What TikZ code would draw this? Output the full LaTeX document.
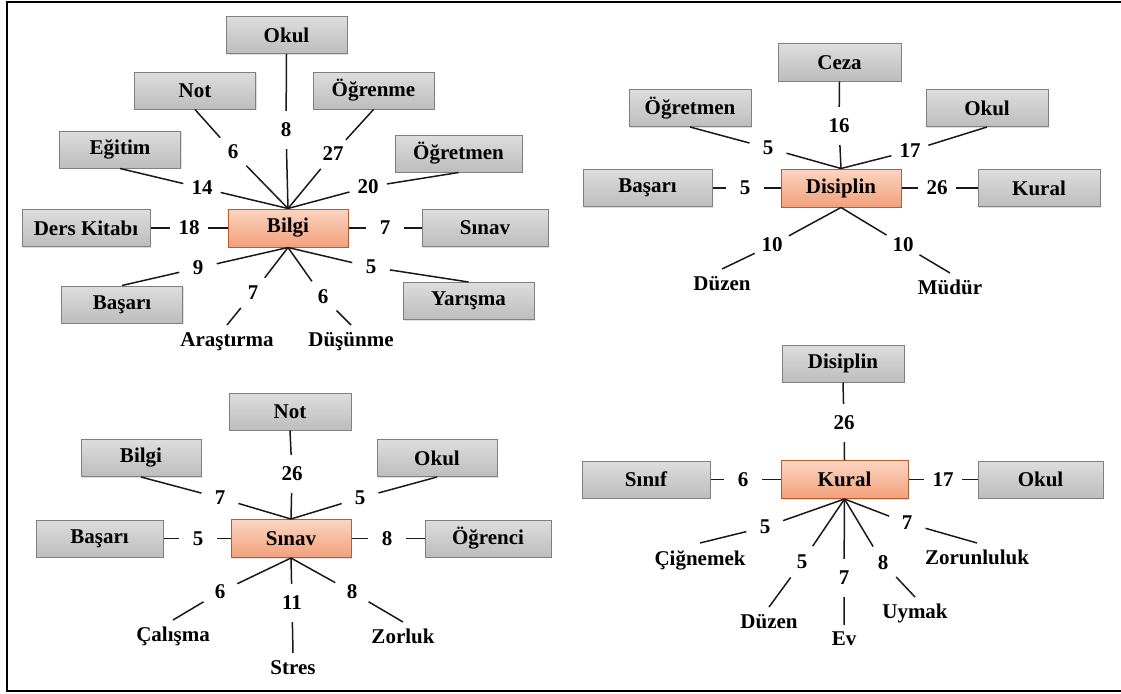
\documentclass[tikz,border=0pt]{standalone}
\usepackage{fontspec}
\setmainfont{Liberation Serif}
\usetikzlibrary{shadows}
\definecolor{gtop}{HTML}{DDDDDD}
\definecolor{gbot}{HTML}{BDBDBD}
\definecolor{gline}{HTML}{808080}
\definecolor{otop}{HTML}{FBD5C2}
\definecolor{obot}{HTML}{F2A07B}
\definecolor{oline}{HTML}{BF5A2C}
\begin{document}
\begin{tikzpicture}[x=1pt,y=-1pt,
  every node/.style={font=\fontsize{21}{25}\selectfont\bfseries},
  gbox/.style={draw=gline, line width=1pt, top color=gtop, bottom color=gbot,
    minimum height=37pt, minimum width=121pt, inner sep=0pt,
    drop shadow={opacity=0.25, shadow xshift=1.2pt, shadow yshift=-1.2pt}},
  cbox/.style={draw=oline, line width=1pt, top color=otop, bottom color=obot,
    minimum height=38pt, minimum width=120pt, inner sep=0pt,
    drop shadow={opacity=0.25, shadow xshift=1.2pt, shadow yshift=-1.2pt}},
  num/.style={circle, minimum size=38pt, inner sep=0pt},
  lbl/.style={anchor=north, inner xsep=2pt, inner ysep=7pt},
  ln/.style={line width=1.5pt, black!90}
]
\useasboundingbox (0,0) rectangle (1121,693);
\draw[line width=2.5pt] (1121,2) -- (7,2) -- (7,691) -- (1121,691);

% ---------------- Bilgi ----------------
\node[cbox] (bilgi) at (288,228) {Bilgi};
\node[gbox] (okulA) at (286.5,35) {Okul};
\node[gbox] (notA) at (195,90.5) {Not};
\node[gbox] (egitim) at (120,149.5) {Eğitim};
\node[gbox, minimum width=128pt] (ders) at (86,228) {Ders Kitabı};
\node[gbox] (basariA) at (122,304.5) {Başarı};
\node[gbox] (ogrenme) at (373.5,90.5) {Öğrenme};
\node[gbox, minimum width=127pt] (ogretmenA) at (458.5,153.5) {Öğretmen};
\node[gbox, minimum width=126pt] (sinavA) at (485,228) {Sınav};
\node[gbox, minimum width=131pt] (yarisma) at (468.5,301) {Yarışma};
\node[lbl] (arastirma) at (227,325) {Araştırma};
\node[lbl] (dusunme) at (351,325) {Düşünme};

\node[num] (nA8) at (286,130) {8};
\node[num] (nA6) at (233,152) {6};
\node[num] (nA14) at (202,188) {14};
\node[num] (nA18) at (189,228) {18};
\node[num] (nA9) at (198,268) {9};
\node[num] (nA7a) at (253,293) {7};
\node[num] (nA6b) at (323,297) {6};
\node[num] (nA5) at (371,267) {5};
\node[num] (nA7b) at (385,228) {7};
\node[num] (nA20) at (368,187) {20};
\node[num] (nA27) at (333,154) {27};

\draw[ln] (bilgi.north) -- (nA8) -- (okulA.south);
\draw[ln] (bilgi.north) -- (nA6) -- (notA.south);
\draw[ln] (bilgi.north) -- (nA14) -- (egitim.south);
\draw[ln] (bilgi.west) -- (nA18) -- (ders.east);
\draw[ln] (bilgi.south) -- (nA9) -- (basariA.north);
\draw[ln] (bilgi.south) -- (nA7a) -- (arastirma.north);
\draw[ln] (bilgi.south) -- (nA6b) -- (dusunme.north);
\draw[ln] (bilgi.south) -- (nA5) -- (yarisma.north);
\draw[ln] (bilgi.east) -- (nA7b) -- (sinavA.west);
\draw[ln] (bilgi.north) -- (nA20) -- (ogretmenA.south);
\draw[ln] (bilgi.north) -- (nA27) -- (ogrenme.south);

% ---------------- Disiplin ----------------
\node[cbox] (disiplin) at (841,188) {Disiplin};
\node[gbox, minimum width=123pt] (ceza) at (839.5,62.5) {Ceza};
\node[gbox, minimum width=122pt] (ogretmenB) at (690,108) {Öğretmen};
\node[gbox, minimum width=129pt] (basariB) at (647.5,188) {Başarı};
\node[gbox, minimum width=122pt] (okulB) at (987,108) {Okul};
\node[gbox, minimum width=122pt] (kuralA) at (1039,188) {Kural};
\node[lbl] (duzenA) at (722,269) {Düzen};
\node[lbl] (mudur) at (950,273) {Müdür};

\node[num] (nB16) at (839,126) {16};
\node[num] (nB5a) at (768,148) {5};
\node[num] (nB5b) at (745,188) {5};
\node[num] (nB10a) at (772,245) {10};
\node[num] (nB17) at (910,151) {17};
\node[num] (nB26) at (937,188) {26};
\node[num] (nB10b) at (903,245) {10};

\draw[ln] (disiplin.north) -- (nB16) -- (ceza.south);
\draw[ln] (disiplin.north) -- (nB5a) -- (ogretmenB.south);
\draw[ln] (disiplin.west) -- (nB5b) -- (basariB.east);
\draw[ln] (disiplin.south) -- (nB10a) -- (duzenA.north);
\draw[ln] (disiplin.north) -- (nB17) -- (okulB.south);
\draw[ln] (disiplin.east) -- (nB26) -- (kuralA.west);
\draw[ln] (disiplin.south) -- (nB10b) -- (mudur.north);

% ---------------- Sınav ----------------
\node[cbox] (sinav) at (291,538.5) {Sınav};
\node[gbox, minimum width=122pt] (notB) at (290,411.5) {Not};
\node[gbox, minimum width=120pt] (bilgiB) at (141,458) {Bilgi};
\node[gbox, minimum width=127pt] (basariC) at (99.5,538.5) {Başarı};
\node[gbox, minimum width=120pt] (okulC) at (437,458) {Okul};
\node[gbox, minimum width=126pt] (ogrenci) at (488,538.5) {Öğrenci};
\node[lbl] (calisma) at (173,620) {Çalışma};
\node[lbl] (stres) at (293,653) {Stres};
\node[lbl] (zorluk) at (403,622) {Zorluk};

\node[num] (nC26) at (292,474) {26};
\node[num] (nC7) at (220,498) {7};
\node[num] (nC5a) at (360,498) {5};
\node[num] (nC5b) at (198,538.5) {5};
\node[num] (nC8a) at (387,538.5) {8};
\node[num] (nC6) at (220,592) {6};
\node[num] (nC11) at (292,603) {11};
\node[num] (nC8b) at (352,592) {8};

\draw[ln] (sinav.north) -- (nC26) -- (notB.south);
\draw[ln] (sinav.north) -- (nC7) -- (bilgiB.south);
\draw[ln] (sinav.north) -- (nC5a) -- (okulC.south);
\draw[ln] (sinav.west) -- (nC5b) -- (basariC.east);
\draw[ln] (sinav.east) -- (nC8a) -- (ogrenci.west);
\draw[ln] (sinav.south) -- (nC6) -- (calisma.north);
\draw[ln] (sinav.south) -- (nC11) -- (stres.north);
\draw[ln] (sinav.south) -- (nC8b) -- (zorluk.north);

% ---------------- Kural ----------------
\node[cbox, minimum width=127pt] (kural) at (844.5,479.5) {Kural};
\node[gbox, minimum width=122pt] (disiplinB) at (843,363.5) {Disiplin};
\node[gbox, minimum width=128pt] (sinif) at (646,479.5) {Sınıf};
\node[gbox, minimum width=125pt] (okulD) at (1040.5,479.5) {Okul};
\node[lbl] (cignemek) at (700,543) {Çiğnemek};
\node[lbl] (duzenB) at (769,607) {Düzen};
\node[lbl] (ev) at (844,625) {Ev};
\node[lbl] (uymak) at (915,597) {Uymak};
\node[lbl] (zorunluluk) at (977,543) {Zorunluluk};

\node[num] (nD26) at (844,423) {26};
\node[num] (nD6) at (743,479.5) {6};
\node[num] (nD17) at (943,479.5) {17};
\node[num] (nD5a) at (765,527) {5};
\node[num] (nD5b) at (802,562) {5};
\node[num] (nD7a) at (844,578) {7};
\node[num] (nD8) at (883,563) {8};
\node[num] (nD7b) at (907,523) {7};

\draw[ln] (kural.north) -- (nD26) -- (disiplinB.south);
\draw[ln] (kural.west) -- (nD6) -- (sinif.east);
\draw[ln] (kural.east) -- (nD17) -- (okulD.west);
\draw[ln] (kural.south) -- (nD5a) -- (cignemek.north);
\draw[ln] (kural.south) -- (nD5b) -- (duzenB.north);
\draw[ln] (kural.south) -- (nD7a) -- (ev.north);
\draw[ln] (kural.south) -- (nD8) -- (uymak.north);
\draw[ln] (kural.south) -- (nD7b) -- (zorunluluk.north);
\end{tikzpicture}
\end{document}
